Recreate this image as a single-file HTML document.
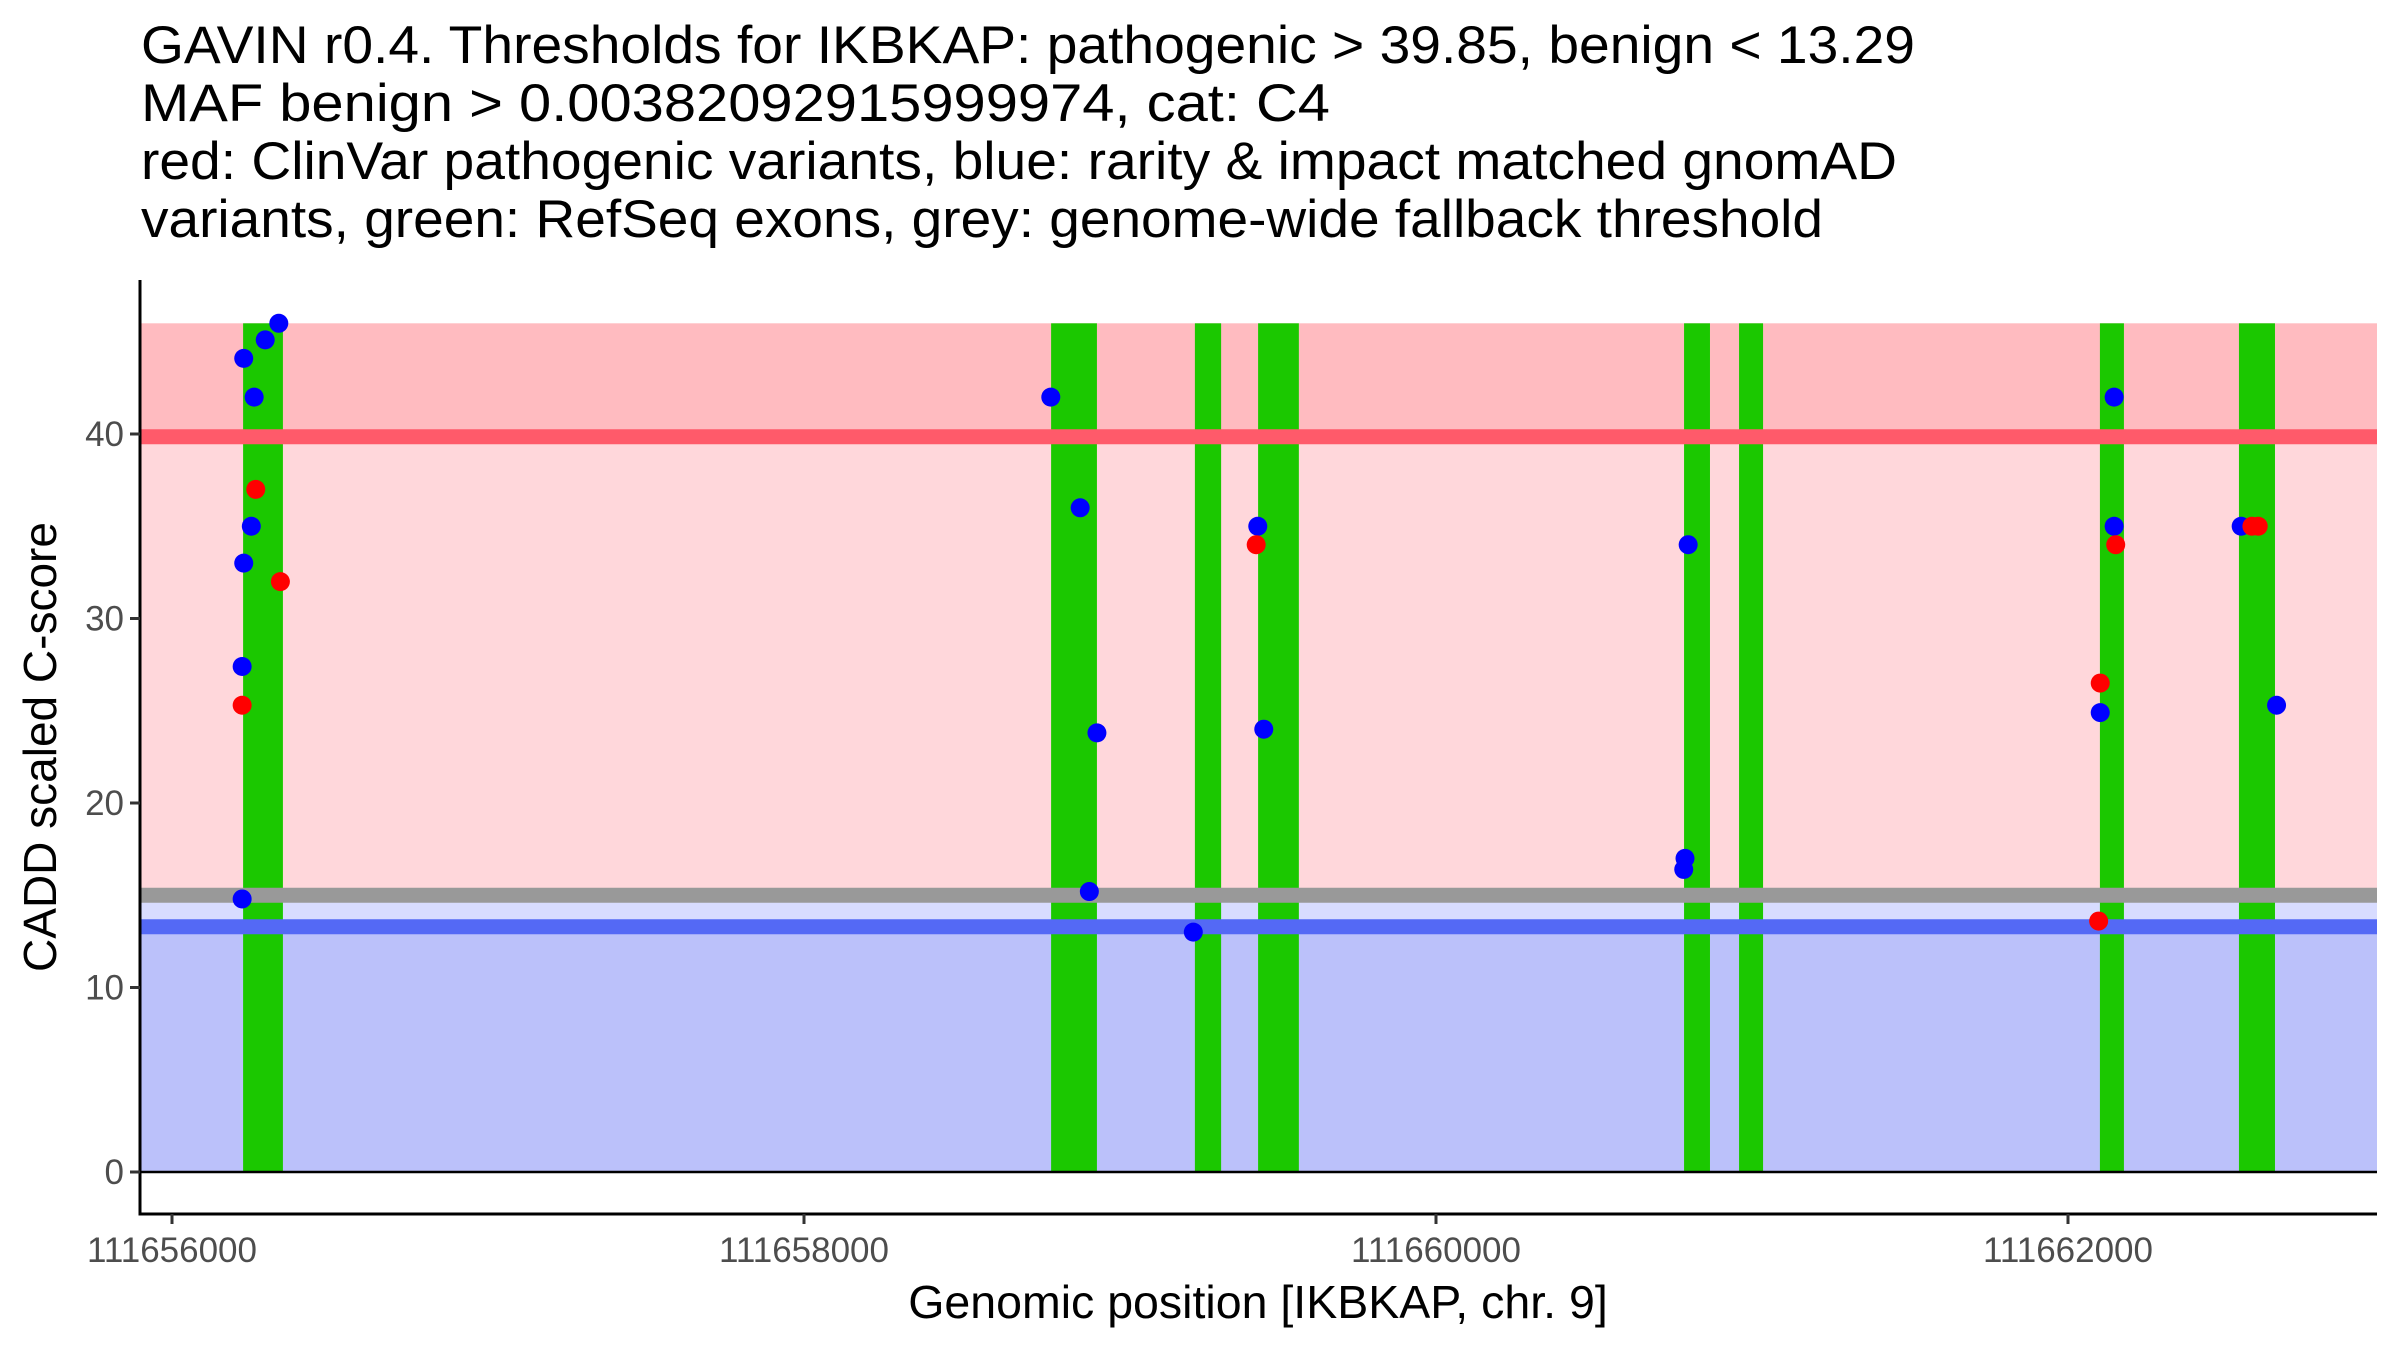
<!DOCTYPE html>
<html><head><meta charset="utf-8"><style>
html,body{margin:0;padding:0;background:#fff}
svg{display:block}
text{font-family:"Liberation Sans",Arial,sans-serif}
</style></head><body>
<svg id="chart" width="2400" height="1350" viewBox="0 0 2400 1350" xmlns="http://www.w3.org/2000/svg">
<g font-size="53" fill="#000">
<text x="141" y="63" textLength="1774" lengthAdjust="spacingAndGlyphs">GAVIN r0.4. Thresholds for IKBKAP: pathogenic &gt; 39.85, benign &lt; 13.29</text>
<text x="141" y="121" textLength="1189" lengthAdjust="spacingAndGlyphs">MAF benign &gt; 0.00382092915999974, cat: C4</text>
<text x="141" y="179" textLength="1756" lengthAdjust="spacingAndGlyphs">red: ClinVar pathogenic variants, blue: rarity &amp; impact matched gnomAD</text>
<text x="141" y="237" textLength="1682" lengthAdjust="spacingAndGlyphs">variants, green: RefSeq exons, grey: genome-wide fallback threshold</text>
</g>
<g id="bands"></g>
<g id="exons"></g>
<g id="lines"></g>
<g id="points"></g>
<g id="axes"></g>
<text x="1258" y="1318" font-size="46.5" text-anchor="middle">Genomic position [IKBKAP, chr. 9]</text>
<text transform="translate(56,747) rotate(-90)" font-size="46" text-anchor="middle">CADD scaled C-score</text>
</svg>
<script>
const X0 = 111656000;
const exonStarts = [225, 2782, 3237, 3437, 4785, 4959, 6101, 6541];
const exonEnds = [351, 2927, 3320, 3566, 4867, 5035, 6177, 6655];
const blueX = [227, 295, 338, 260, 251, 227, 222, 222, 2781, 2874, 2927, 2903, 3232, 3436, 3455, 4798, 4788, 4784, 6146, 6146, 6102, 6548, 6660];
const blueY = [44.1, 45.1, 46.0, 42.0, 35.0, 33.0, 27.4, 14.8, 42.0, 36.0, 23.8, 15.2, 13.0, 35.0, 24.0, 34.0, 17.0, 16.4, 42.0, 35.0, 24.9, 35.0, 25.3];
const redX = [265, 343, 222, 3431, 6151, 6102, 6097, 6582, 6602];
const redY = [37.0, 32.0, 25.3, 34.0, 34.0, 26.5, 13.6, 35.0, 35.0];
const yTicks = [0, 10, 20, 30, 40];
const xTicks = [0, 2000, 4000, 6000];
const xTickLabels = ["111656000", "111658000", "111660000", "111662000"];
const pathThr = 39.85, benignThr = 13.29, fallbackThr = 15.0, yMax = 46;

const NS = "http://www.w3.org/2000/svg";
const PL = 140, PR = 2377, AXY = 1214, PT = 280;
function sx(bp){ return 172 + bp * 0.316; }
function sy(v){ return 1172 - v * 18.45; }
function mk(parent, tag, attrs){
  const e = document.createElementNS(NS, tag);
  for (const k in attrs) e.setAttribute(k, attrs[k]);
  document.getElementById(parent).appendChild(e);
  return e;
}
let e;
e = mk("bands","rect",{x:PL,y:sy(yMax),width:PR-PL,height:sy(pathThr)-sy(yMax),fill:"#FFBBC0"});
 
e = mk("bands","rect",{x:PL,y:sy(pathThr),width:PR-PL,height:sy(fallbackThr)-sy(pathThr),fill:"#FFD7DB"});
 
e = mk("bands","rect",{x:PL,y:sy(fallbackThr),width:PR-PL,height:sy(benignThr)-sy(fallbackThr),fill:"#D8DCFF"});
 
e = mk("bands","rect",{x:PL,y:sy(benignThr),width:PR-PL,height:sy(0)-sy(benignThr),fill:"#BBC1FA"});
 
for (let i = 0; i < exonStarts.length; i++){
  e = mk("exons","rect",{x:sx(exonStarts[i]),y:sy(yMax),width:sx(exonEnds[i])-sx(exonStarts[i]),height:sy(0)-sy(yMax),fill:"#1BC800"});
  
  
}
e = mk("lines","line",{x1:PL,x2:PR,y1:sy(pathThr),y2:sy(pathThr),stroke:"#FF5A6A","stroke-width":15});
 
e = mk("lines","line",{x1:PL,x2:PR,y1:sy(fallbackThr),y2:sy(fallbackThr),stroke:"#999999","stroke-width":15});
 
e = mk("lines","line",{x1:PL,x2:PR,y1:sy(benignThr),y2:sy(benignThr),stroke:"#5469F5","stroke-width":15});
 
e = mk("lines","line",{x1:PL,x2:PR,y1:sy(0),y2:sy(0),stroke:"#000","stroke-width":2.5});
 
for (let i = 0; i < blueX.length; i++){
  e = mk("points","ellipse",{cx:sx(blueX[i]),cy:sy(blueY[i]),rx:9.5,ry:9.5,fill:"#0000FF"});
  
  
}
for (let i = 0; i < redX.length; i++){
  e = mk("points","ellipse",{cx:sx(redX[i]),cy:sy(redY[i]),rx:9.5,ry:9.5,fill:"#FF0000"});
  
  
}
e = mk("axes","line",{x1:PL,x2:PL,y1:PT,y2:AXY+1.5,stroke:"#000","stroke-width":3});
 
e = mk("axes","line",{x1:PL-1.5,x2:PR,y1:AXY,y2:AXY,stroke:"#000","stroke-width":3});
 
for (let i = 0; i < yTicks.length; i++){
  const y = sy(yTicks[i]);
  e = mk("axes","line",{x1:PL-10,x2:PL,y1:y,y2:y,stroke:"#333","stroke-width":3});
   
  e = mk("axes","text",{x:PL-16,y:y+12,"font-size":35,fill:"#4D4D4D","text-anchor":"end"});
  e.textContent = String(yTicks[i]);
   
}
for (let i = 0; i < xTicks.length; i++){
  const x = sx(xTicks[i]);
  e = mk("axes","line",{x1:x,x2:x,y1:AXY,y2:AXY+10,stroke:"#333","stroke-width":3});
   
  e = mk("axes","text",{x:x,y:AXY+48,"font-size":35,fill:"#4D4D4D","text-anchor":"middle"});
  e.textContent = xTickLabels[i];
   
}
</script>
</body></html>
